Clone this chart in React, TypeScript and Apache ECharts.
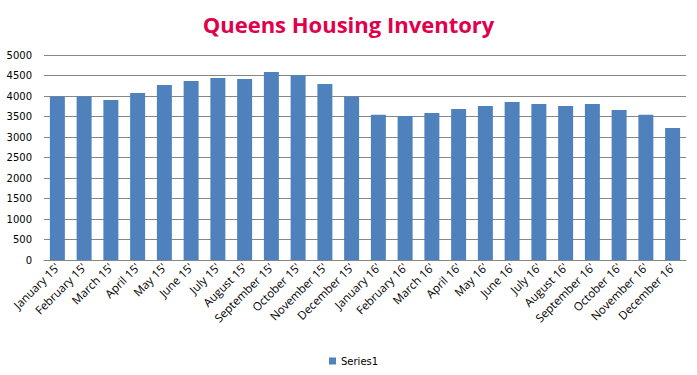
import React, { useEffect, useRef } from "react";
import * as echarts from "echarts";

const categories = [
  "January 15'", "February 15'", "March 15'", "April 15'", "May 15'", "June 15'",
  "July 15'", "August 15'", "September 15'", "October 15'", "November 15'", "December 15'",
  "January 16'", "February 16'", "March 16'", "April 16'", "May 16'", "June 16'",
  "July 16'", "August 16'", "September 16'", "October 16'", "November 16'", "December 16'",
];
const series1 = [
  3990, 3990, 3900, 4075, 4270, 4365, 4440, 4415, 4585, 4505, 4295, 3990,
  3540, 3510, 3585, 3685, 3755, 3855, 3805, 3755, 3805, 3660, 3540, 3220,
];
const seriesName = "Series1";
const titleText = "Queens Housing Inventory";

export default function App() {
  const ref = useRef<HTMLDivElement>(null);
  useEffect(() => {
    if (!ref.current) return;
    const chart = echarts.init(ref.current, null, { renderer: "svg" });
    chart.setOption({
      animation: false,
      backgroundColor: "#ffffff",
      title: {
        text: titleText,
        left: "center",
        top: 8,
        textStyle: {
          color: "#E1004B",
          fontSize: 22,
          fontWeight: "bold",
          fontFamily: "Open Sans",
        },
      },
      legend: {
        data: [seriesName],
        left: 324,
        top: 351,
        itemWidth: 7,
        itemHeight: 7,
        icon: "rect",
        textStyle: { fontFamily: "DejaVu Sans", fontSize: 10, color: "#000" },
      },
      grid: { left: 44, right: 11, top: 55, bottom: 115, containLabel: false },
      xAxis: {
        type: "category",
        data: categories,
        axisLine: { show: true, lineStyle: { color: "#868686", width: 1 } },
        axisTick: { show: false },
        axisLabel: {
          interval: 0,
          rotate: 45,
          fontSize: 11.5,
          fontFamily: "Open Sans",
          color: "#000",
          margin: 5,
        },
      },
      yAxis: {
        type: "value",
        min: 0,
        max: 5000,
        interval: 500,
        axisLine: { show: false },
        axisTick: { show: false },
        splitLine: { show: true, lineStyle: { color: "#868686", width: 1 } },
        axisLabel: {
          fontSize: 10,
          fontFamily: "DejaVu Sans",
          color: "#000",
          margin: 12,
          formatter: (v: number) => String(v),
        },
      },
      series: [
        {
          name: seriesName,
          type: "bar",
          data: series1,
          barCategoryGap: "44%",
          itemStyle: { color: "#4F81BD" },
        },
      ],
    });
    return () => chart.dispose();
  }, []);
  return <div ref={ref} style={{ width: 697, height: 375, position: "absolute", left: 0, top: 0 }} />;
}
